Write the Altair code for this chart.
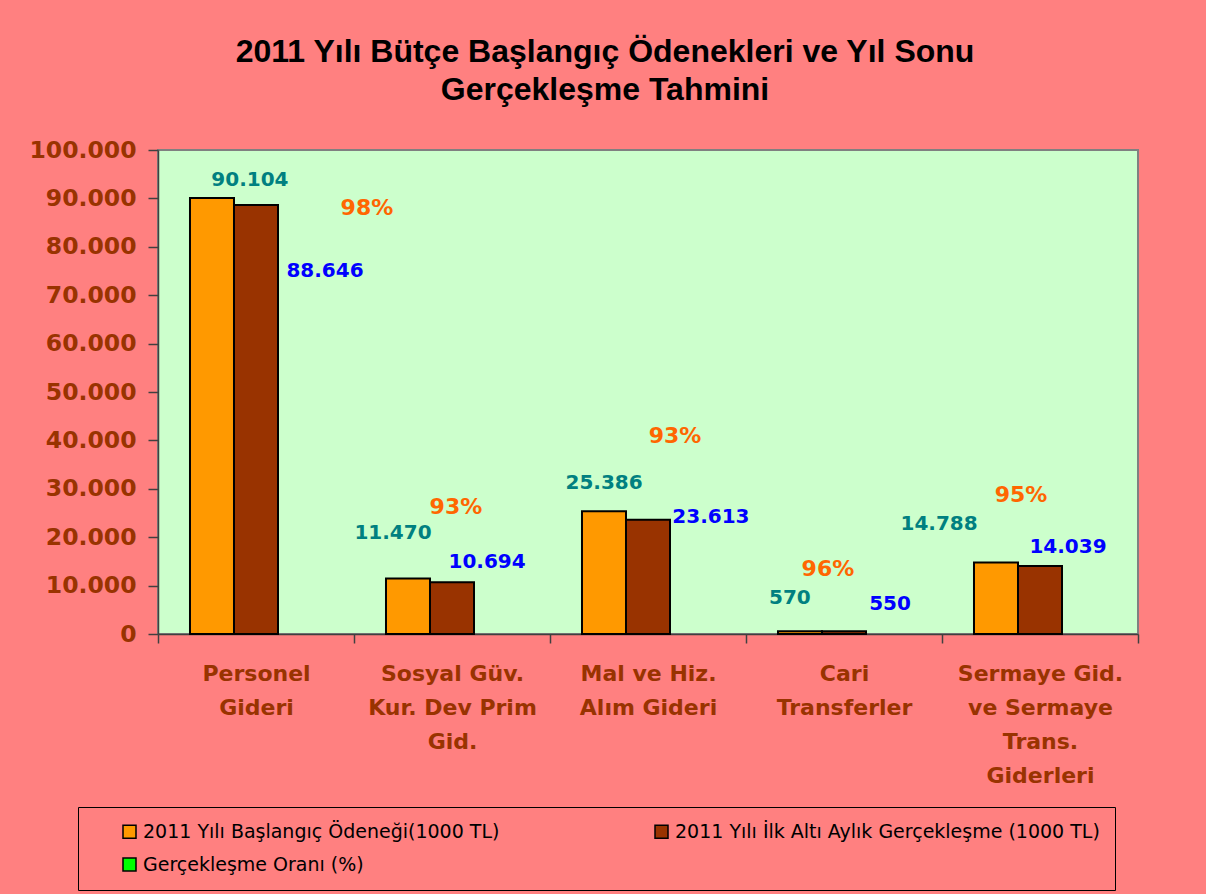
import altair as alt
import pandas as pd

# ---- data ----
categories = [
    "Personel|Gideri",
    "Sosyal Güv.|Kur. Dev Prim|Gid.",
    "Mal ve Hiz.|Alım Gideri",
    "Cari|Transferler",
    "Sermaye Gid.|ve Sermaye|Trans.|Giderleri",
]
series_names = [
    "2011 Yılı Başlangıç Ödeneği(1000 TL)",
    "2011 Yılı İlk Altı Aylık Gerçekleşme (1000 TL)",
    "Gerçekleşme Oranı (%)",
]
budget = [90104, 11470, 25386, 570, 14788]
realized = [88646, 10694, 23613, 550, 14039]
ratio_pct = [98, 93, 93, 96, 95]

# label anchors (category units along x, data units along y), as placed in the reference
budget_label_x = [0.469, 1.199, 2.276, 3.224, 3.985]
budget_label_y = [93800, 20870, 31200, 7440, 22730]
realized_label_x = [0.852, 1.679, 2.821, 3.735, 4.643]
realized_label_y = [75000, 14875, 24170, 6200, 17975]
ratio_label_x = [1.066, 1.520, 2.638, 3.418, 4.403]
ratio_label_y = [88000, 26240, 40900, 13430, 28720]

series_colors = ["#FF9900", "#993300", "#00FF00"]
axis_color = "#993300"


def dotted(v):
    return f"{v:,}".replace(",", ".")


bars_df = pd.DataFrame({
    "category": categories * 2,
    "series": [series_names[0]] * 5 + [series_names[1]] * 5,
    "value": budget + realized,
})

y_scale = alt.Scale(domain=[0, 100000], nice=False)
y_axis = alt.Axis(
    title=None,
    values=list(range(0, 100001, 10000)),
    grid=False,
    tickSize=10,
    tickColor="#404040",
    tickWidth=1.5,
    domainColor="#404040",
    domainWidth=1.5,
    labelExpr="replace(format(datum.value, ','), ',', '.')",
    labelFont="DejaVu Sans",
    labelFontWeight="bold",
    labelFontSize=23.5,
    labelColor=axis_color,
    labelPadding=12,
)

bars = alt.Chart(bars_df).mark_bar(stroke="black", strokeWidth=2).encode(
    x=alt.X(
        "category:N",
        sort=categories,
        scale=alt.Scale(paddingInner=0, paddingOuter=0),
        axis=alt.Axis(
            title=None,
            labelAngle=0,
            tickBand="extent",
            tickSize=9,
            tickColor="#404040",
            tickWidth=1.5,
            domainColor="#404040",
            domainWidth=1.5,
            labelExpr="split(datum.label, '|')",
            labelFont="DejaVu Sans",
            labelFontWeight="bold",
            labelFontSize=22,
            labelColor=axis_color,
            labelPadding=20,
            labelLineHeight=34,
            labelLimit=300,
        ),
    ),
    xOffset=alt.XOffset(
        "series:N",
        scale=alt.Scale(domain=series_names, paddingInner=0, paddingOuter=0.727),
    ),
    y=alt.Y("value:Q", scale=y_scale, axis=y_axis),
    color=alt.Color(
        "series:N",
        scale=alt.Scale(domain=series_names, range=series_colors),
        legend=alt.Legend(
            title=None,
            orient="none",
            legendX=-80,
            legendY=657,
            direction="horizontal",
            columns=2,
            gridAlign="each",
            columnPadding=125,
            rowPadding=13,
            symbolType="square",
            symbolSize=169,
            symbolStrokeColor="black",
            symbolStrokeWidth=1.5,
            symbolOffset=27,
            labelOffset=4,
            labelFont="DejaVu Sans",
            labelFontSize=19,
            labelColor="black",
            labelLimit=600,
            fillColor="#FF8080",
            strokeColor="#000000",
            padding=15,
        ),
    ),
)

x_lab = alt.Scale(domain=[0, 5], nice=False, zero=False)


def label_layer(xs, ys, texts, color, size):
    df = pd.DataFrame({"pos": xs, "val": ys, "text": texts})
    return alt.Chart(df).mark_text(
        font="DejaVu Sans", fontWeight="bold", fontSize=size, color=color,
        align="center", baseline="middle",
    ).encode(
        x=alt.X("pos:Q", scale=x_lab, axis=None),
        y=alt.Y("val:Q", scale=y_scale, axis=y_axis),
        text="text:N",
    )


t_budget = label_layer(budget_label_x, budget_label_y, [dotted(v) for v in budget], "#008080", 20)
t_real = label_layer(realized_label_x, realized_label_y, [dotted(v) for v in realized], "#0000FF", 20)
t_ratio = label_layer(ratio_label_x, ratio_label_y, [f"{p}%" for p in ratio_pct], "#FF6600", 22)

chart = alt.layer(bars, t_budget, t_real, t_ratio).resolve_scale(x="independent").properties(
    width=980,
    height=484,
    title=alt.Title(
        text=["2011 Yılı Bütçe Başlangıç Ödenekleri ve Yıl Sonu", "Gerçekleşme Tahmini"],
        font="Liberation Sans",
        fontSize=32,
        fontWeight="bold",
        color="black",
        anchor="middle",
        dx=-43,
        offset=31,
        lineHeight=38,
    ),
    background="#FF8080",
    padding={"left": 158, "top": 150, "right": 68, "bottom": 260},
    autosize=alt.AutoSizeParams(type="none"),
).configure_view(fill="#CCFFCC", stroke="#808080", strokeWidth=2)

chart.save("out.html", embed_options={"renderer": "svg", "actions": False})
